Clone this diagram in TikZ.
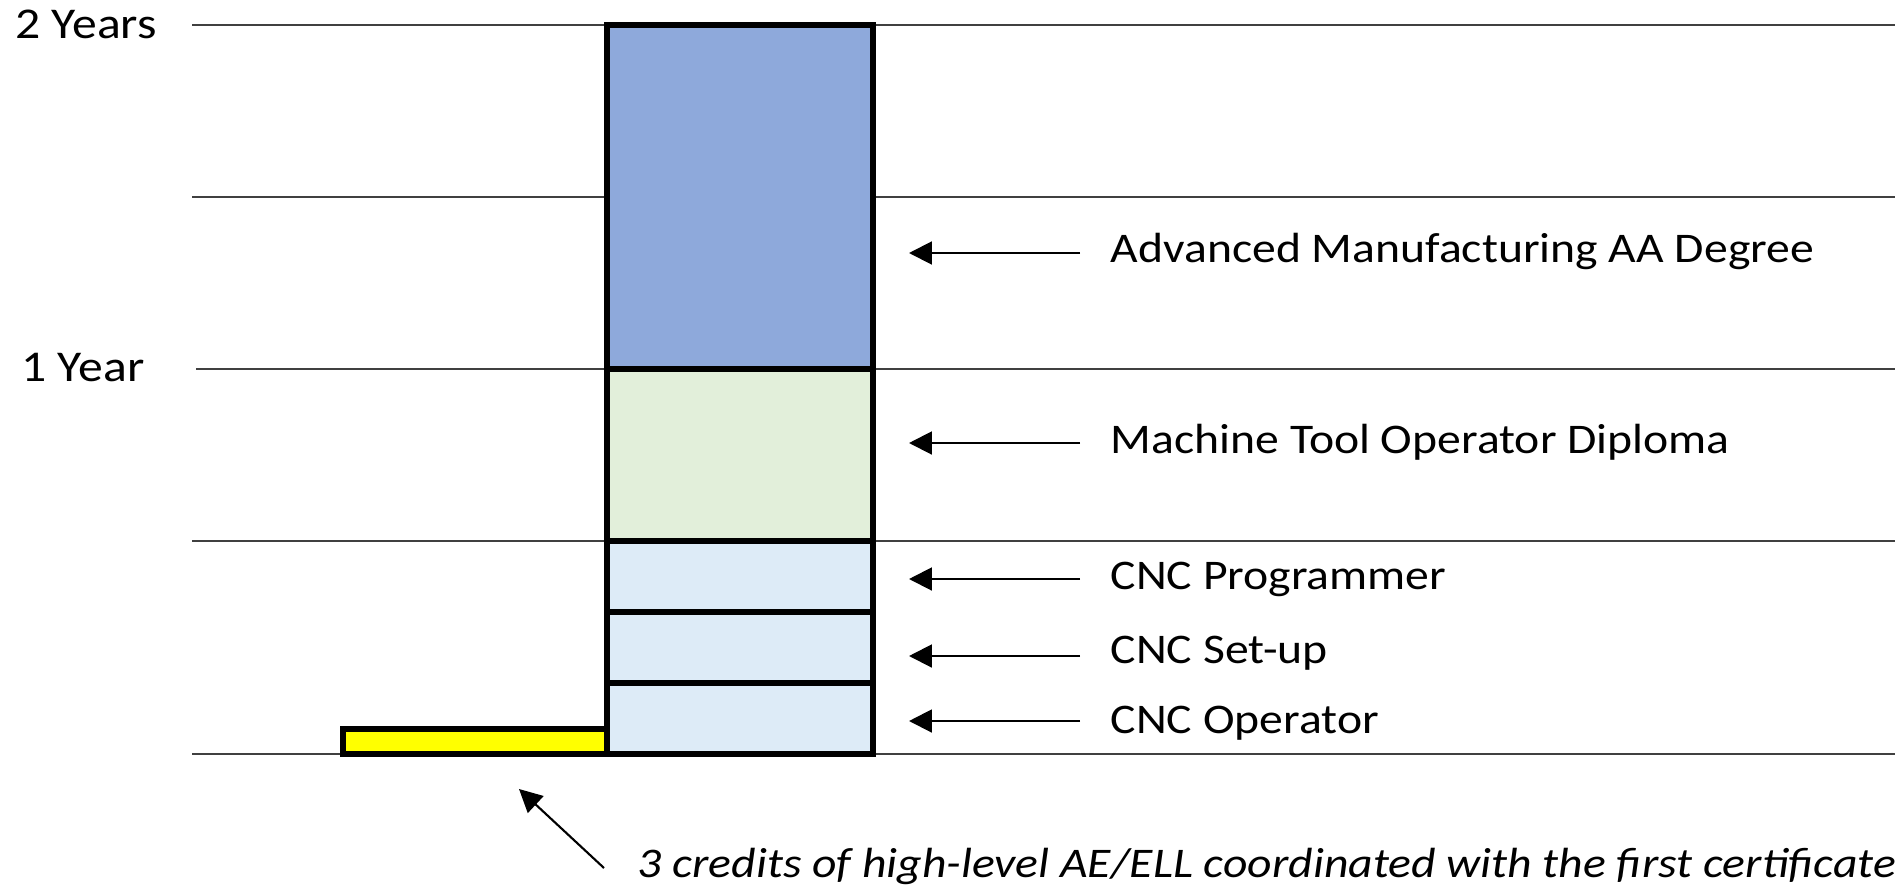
\documentclass[tikz,border=0pt]{standalone}
\usepackage{fontspec}
\setmainfont{Carlito}[FakeStretch=1.13]
\usetikzlibrary{arrows.meta}

\definecolor{aablue}{HTML}{8EA9DB}
\definecolor{diplgreen}{HTML}{E2EFDA}
\definecolor{certblue}{HTML}{DDEBF7}
\definecolor{aeyellow}{HTML}{FFFF00}

\tikzset{
  yearline/.style={black!75, line width=0.6pt},
  bar/.style={draw=black, line width=1.7pt},
  pointer/.style={-{Triangle[length=6.5pt,width=6.5pt]}, line width=0.6pt},
  lbl/.style={anchor=west, inner sep=0pt, font=\fontsize{12}{14}\selectfont},
}

\begin{document}
\begin{tikzpicture}[x=0.01cm, y=-0.01cm]
\useasboundingbox (0,0) rectangle (1895,885);

% horizontal year lines
\draw [yearline] (192,25) -- (1895,25);
\draw [yearline] (192,197) -- (1895,197);
\draw [yearline] (196,369) -- (1895,369);
\draw [yearline] (192,541) -- (1895,541);
\draw [yearline] (192,754) -- (1895,754);

\node (yr2) [font=\fontsize{12.5}{14}\selectfont] at (86,24) {2 Years};
\node (yr1) [font=\fontsize{12.5}{14}\selectfont] at (83,368) {1 Year};

% the stack
\filldraw [bar, fill=aablue] (607,25) rectangle (873,369);
\filldraw [bar, fill=diplgreen] (607,369) rectangle (873,541);
\filldraw [bar, fill=certblue] (607,541) rectangle (873,612);
\filldraw [bar, fill=certblue] (607,612) rectangle (873,683);
\filldraw [bar, fill=certblue] (607,683) rectangle (873,754);
\filldraw [bar, fill=aeyellow] (343,729) rectangle (607,754);

% labels
\node (aa) [lbl] at (1110,251) {Advanced Manufacturing AA Degree};
\node (mto) [lbl] at (1110,442) {Machine Tool Operator Diploma};
\node (prog) [lbl] at (1110,579) {CNC Programmer};
\node (setup) [lbl] at (1110,653) {CNC Set-up};
\node (oper) [lbl] at (1110,723) {CNC Operator};

\coordinate (t1) at (909,253);
\coordinate (t2) at (909,443);
\coordinate (t3) at (909,579);
\coordinate (t4) at (909,656);
\coordinate (t5) at (909,721);

\draw [pointer] ([xshift=-0.3cm]aa.west |- t1) -- (t1);
\draw [pointer] ([xshift=-0.3cm]mto.west |- t2) -- (t2);
\draw [pointer] ([xshift=-0.3cm]prog.west |- t3) -- (t3);
\draw [pointer] ([xshift=-0.3cm]setup.west |- t4) -- (t4);
\draw [pointer] ([xshift=-0.3cm]oper.west |- t5) -- (t5);

% AE/ELL note
\node (note) [lbl, font=\fontsize{12}{14}\selectfont\itshape] at (637,866)
  {3 credits of high-level AE/ELL coordinated with the first certificate};
\coordinate (t6) at (519,789);
\draw [pointer] ([shift={(-33,2)}]note.west) -- (t6);

\end{tikzpicture}
\end{document}
